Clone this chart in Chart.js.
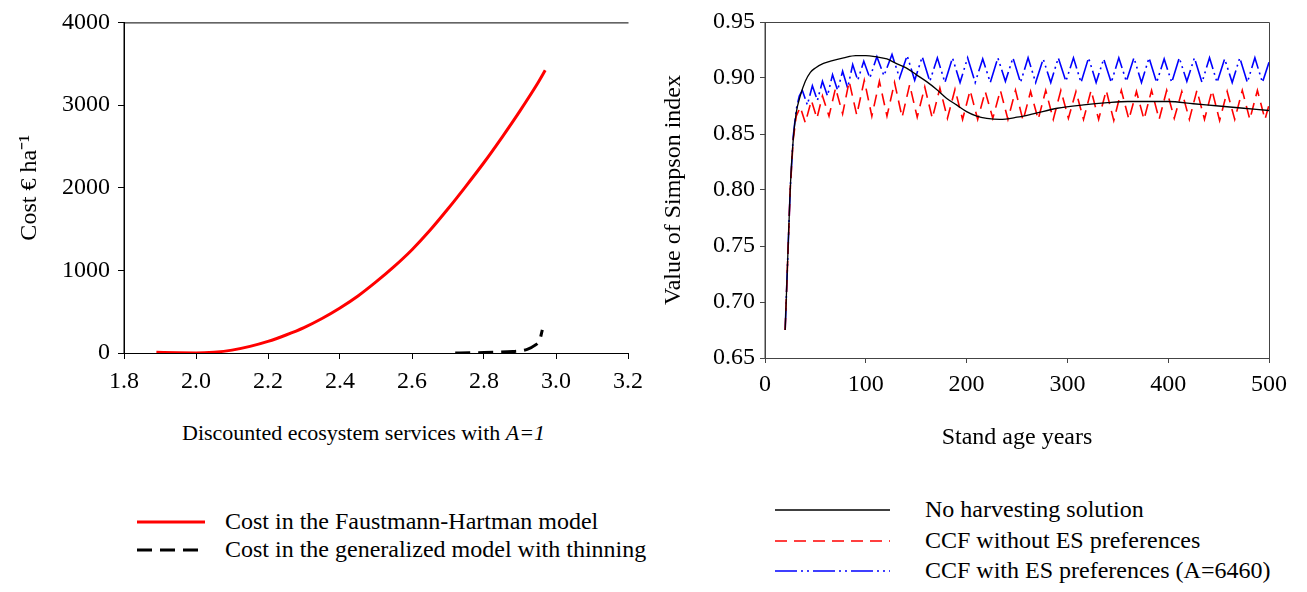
<!DOCTYPE html>
<html>
<head>
<meta charset="utf-8">
<script src="https://cdn.jsdelivr.net/npm/chart.js@4/dist/chart.umd.min.js"></script>
<style>
  html, body { margin: 0; padding: 0; background: #fff; }
  #wrap { position: relative; width: 1307px; height: 592px; overflow: hidden; font-family: 'Liberation Serif', 'Times New Roman', serif; color: #000; }
  canvas { position: absolute; top: 0; }
  .txt { position: absolute; font-size: 24px; line-height: 28px; white-space: nowrap; }
  .leg svg { position: absolute; overflow: visible; }
</style>
</head>
<body>
<div id="wrap">
  <canvas id="left" width="655" height="400" style="left:0"></canvas>
  <canvas id="right" width="652" height="460" style="left:655px"></canvas>
  <div class="txt" id="xtitleLeft" style="left:182px; top:419px; font-size:22px;">Discounted ecosystem services with <i>A=1</i></div>
  <div class="leg" id="legLeft"></div>
  <div class="leg" id="legRight"></div>
</div>
<script>
// ---------- Left panel data ----------
const costX    = [1.89, 1.95, 2.00, 2.05, 2.10, 2.15, 2.20, 2.25, 2.30, 2.35, 2.40, 2.45, 2.50, 2.55, 2.60, 2.65, 2.70, 2.75, 2.80, 2.85, 2.90, 2.95, 2.97];
const costFH   = [8, 2, 0, 10, 35, 80, 140, 218, 308, 418, 545, 690, 860, 1045, 1250, 1485, 1745, 2020, 2305, 2610, 2930, 3270, 3420];
const thinX    = [2.72, 2.76, 2.80, 2.84, 2.88, 2.90, 2.92, 2.94, 2.955, 2.962];
const thinCost = [0, 2, 5, 10, 18, 25, 45, 90, 160, 280];
const leftXTicks = [1.8, 2.0, 2.2, 2.4, 2.6, 2.8, 3.0, 3.2];
const leftYTicks = [0, 1000, 2000, 3000, 4000];

// ---------- Right panel data ----------
const ageNH  = [20, 22.5, 25, 28, 31, 35, 40, 45, 50, 58, 65, 78, 90, 100, 110, 121, 130, 140, 150, 160, 170, 180, 190, 200, 210, 220, 233, 250, 266, 290, 316, 340, 360, 380, 400, 425, 450, 475, 500];
const simpNH = [0.675, 0.738, 0.800, 0.845, 0.869, 0.884, 0.897, 0.905, 0.909, 0.913, 0.915, 0.918, 0.920, 0.920, 0.919, 0.917, 0.913, 0.909, 0.903, 0.897, 0.890, 0.882, 0.876, 0.870, 0.866, 0.864, 0.863, 0.865, 0.868, 0.873, 0.876, 0.878, 0.879, 0.879, 0.879, 0.877, 0.875, 0.873, 0.871];

const ageCCF = [20, 25, 28, 31, 35, 40, 46, 51.5, 57, 63.5, 70, 77, 83.5, 91, 98.5, 106, 113.5, 121, 128.5, 136, 143.5, 151, 158.5, 166, 173.5, 181, 188.5,
  196, 203.5, 211, 218.5, 226, 233.5, 241, 248.5, 256, 263.5, 271, 278.5, 286, 293.5, 301, 308.5, 316, 323.5, 331, 338.5, 346, 353.5, 361, 368.5,
  376, 383.5, 391, 398.5, 406, 413.5, 421, 428.5, 436, 443.5, 451, 458.5, 466, 473.5, 481, 488.5, 496, 500];
const simpCCF = [0.675, 0.800, 0.845, 0.866, 0.874, 0.860, 0.880, 0.864, 0.884, 0.866, 0.891, 0.868, 0.897, 0.867, 0.898, 0.866, 0.897, 0.866, 0.896, 0.865, 0.894, 0.865, 0.892, 0.864, 0.891, 0.864, 0.890,
  0.863, 0.889, 0.863, 0.888, 0.864, 0.889, 0.863, 0.889, 0.862, 0.888, 0.863, 0.889, 0.863, 0.889, 0.864, 0.888, 0.863, 0.889, 0.863, 0.889, 0.862, 0.889, 0.863, 0.888,
  0.863, 0.889, 0.863, 0.889, 0.864, 0.888, 0.863, 0.889, 0.863, 0.889, 0.862, 0.888, 0.863, 0.889, 0.863, 0.889, 0.863, 0.876];

const ageES = [20, 25, 28, 31, 34, 37, 42, 47, 52, 57, 62, 67, 72, 77, 82, 87, 92, 98, 104, 111, 118, 126, 133.5, 141, 148.5, 156, 163.5, 171, 178.5, 186,
  193.5, 201, 208.5, 216, 223.5, 231, 238.5, 246, 253.5, 261, 268.5, 276, 283.5, 291, 298.5, 306, 313.5, 321, 328.5, 336, 343.5,
  351, 358.5, 366, 373.5, 381, 388.5, 396, 403.5, 411, 418.5, 426, 433.5, 441, 448.5, 456, 463.5, 471, 478.5, 486, 493.5, 500];
const simpES = [0.675, 0.800, 0.848, 0.872, 0.884, 0.889, 0.876, 0.893, 0.880, 0.897, 0.884, 0.903, 0.889, 0.906, 0.891, 0.912, 0.898, 0.915, 0.900, 0.919, 0.902, 0.921, 0.900, 0.920, 0.898, 0.919, 0.897, 0.918, 0.896, 0.918,
  0.896, 0.918, 0.896, 0.917, 0.896, 0.918, 0.897, 0.918, 0.896, 0.918, 0.896, 0.917, 0.896, 0.918, 0.897, 0.918, 0.896, 0.918, 0.896, 0.917, 0.896,
  0.918, 0.897, 0.918, 0.896, 0.918, 0.896, 0.917, 0.896, 0.918, 0.897, 0.918, 0.896, 0.918, 0.896, 0.917, 0.896, 0.918, 0.896, 0.918, 0.896, 0.914];
const rightXTicks = [0, 100, 200, 300, 400, 500];
const rightYTicks = [0.65, 0.70, 0.75, 0.80, 0.85, 0.90, 0.95];

// ---------- helpers ----------
const FAM = "'Liberation Serif', 'Times New Roman', serif";
const zip = (xs, ys) => xs.map((x, i) => ({ x: x, y: ys[i] }));
const tickFont = { family: FAM, size: 24 };
const titleFont = { family: FAM, size: 24 };

const framePlugin = {
  id: 'frame',
  afterDraw(chart, args, opts) {
    const a = chart.chartArea, ctx = chart.ctx;
    ctx.save();
    ctx.strokeStyle = opts.color || '#000';
    ctx.lineWidth = 1;
    ctx.beginPath();
    ctx.moveTo(a.left, a.bottom + 0.5);
    ctx.lineTo(a.left, a.top + 0.5);
    ctx.lineTo(a.right + 0.5, a.top + 0.5);
    if (opts.right) ctx.lineTo(a.right + 0.5, a.bottom);
    ctx.stroke();
    ctx.restore();
  }
};

function axis(min, max, ticksArr, fmt, extra) {
  return Object.assign({
    type: 'linear', min: min, max: max,
    afterBuildTicks: s => { s.ticks = ticksArr.map(v => ({ value: v })); },
    ticks: { font: tickFont, color: '#000', padding: 8, callback: v => fmt(v), autoSkip: false, maxRotation: 0 },
    grid: { drawOnChartArea: false, drawTicks: true, tickLength: 6, color: '#000', lineWidth: 1 },
    border: { display: true, color: '#000', width: 1 }
  }, extra || {});
}

// ---------- Left chart ----------
const leftChart = new Chart(document.getElementById('left'), {
  type: 'scatter',
  data: {
    datasets: [
      { label: 'Cost in the Faustmann-Hartman model', data: zip(costX, costFH), showLine: true, borderColor: '#ff0000', backgroundColor: '#ff0000', borderWidth: 3, pointRadius: 0, cubicInterpolationMode: 'monotone', borderDash: [] },
      { label: 'Cost in the generalized model with thinning', data: zip(thinX, thinCost), showLine: true, borderColor: '#000000', backgroundColor: '#000000', borderWidth: 3, pointRadius: 0, cubicInterpolationMode: 'monotone', borderDash: [15, 8] }
    ]
  },
  options: {
    responsive: false, animation: false, devicePixelRatio: 1,
    layout: { padding: { left: 0, right: 27, top: 18, bottom: 0 } },
    plugins: { legend: { display: false }, tooltip: { enabled: false }, frame: { color: '#000', right: false } },
    scales: {
      x: axis(1.8, 3.2, leftXTicks, v => v.toFixed(1), { afterFit: s => { s.height = 47; } }),
      y: axis(0, 4000, leftYTicks, v => String(v), {
        afterFit: s => { s.width = 124; },
        title: { display: true, text: 'Cost € ha⁻¹', font: titleFont, color: '#000', padding: { top: 15, bottom: 0 } }
      })
    }
  },
  plugins: [framePlugin]
});

// ---------- Right chart ----------
const rightChart = new Chart(document.getElementById('right'), {
  type: 'scatter',
  data: {
    datasets: [
      { label: 'No harvesting solution', data: zip(ageNH, simpNH), showLine: true, borderColor: '#000000', backgroundColor: '#000000', borderWidth: 1.3, pointRadius: 0, cubicInterpolationMode: 'monotone', borderDash: [] },
      { label: 'CCF without ES preferences', data: zip(ageCCF, simpCCF), showLine: true, borderColor: '#ff0000', backgroundColor: '#ff0000', borderWidth: 1.6, pointRadius: 0, tension: 0, borderDash: [12, 7] },
      { label: 'CCF with ES preferences (A=6460)', data: zip(ageES, simpES), showLine: true, borderColor: '#0000ff', backgroundColor: '#0000ff', borderWidth: 1.6, pointRadius: 0, tension: 0, borderDash: [22, 4, 2, 4, 2, 4] }
    ]
  },
  options: {
    responsive: false, animation: false, devicePixelRatio: 1,
    layout: { padding: { left: 0, right: 38, top: 22, bottom: 0 } },
    plugins: { legend: { display: false }, tooltip: { enabled: false }, frame: { color: '#444', right: true } },
    scales: {
      x: axis(0, 500, rightXTicks, v => String(v), {
        afterFit: s => { s.height = 102; },
        grid: { drawOnChartArea: false, drawTicks: true, tickLength: 5, color: '#444', lineWidth: 1 },
        border: { display: true, color: '#444', width: 1 },
        title: { display: true, text: 'Stand age years', font: titleFont, color: '#000', padding: { top: 0, bottom: 8 } }
      }),
      y: axis(0.65, 0.95, rightYTicks, v => v.toFixed(2), {
        afterFit: s => { s.width = 110; },
        grid: { drawOnChartArea: false, drawTicks: true, tickLength: 5, color: '#444', lineWidth: 1 },
        border: { display: true, color: '#444', width: 1 },
        title: { display: true, text: 'Value of Simpson index', font: titleFont, color: '#000', padding: { top: 4, bottom: 0 } }
      })
    }
  },
  plugins: [framePlugin]
});
rightChart.options.scales.x.ticks.padding = 7;
rightChart.options.scales.y.ticks.padding = 5;
rightChart.update();

// ---------- HTML legends built from the chart datasets ----------
function buildLegend(chart, el, lineX, lineW, textX, rowsY) {
  chart.data.datasets.forEach((ds, i) => {
    const y = rowsY[i];
    const svgNS = 'http://www.w3.org/2000/svg';
    const svg = document.createElementNS(svgNS, 'svg');
    svg.setAttribute('width', lineW); svg.setAttribute('height', 8);
    svg.style.left = lineX + 'px'; svg.style.top = (y - 4) + 'px';
    const ln = document.createElementNS(svgNS, 'line');
    ln.setAttribute('x1', 0); ln.setAttribute('x2', lineW);
    ln.setAttribute('y1', 4); ln.setAttribute('y2', 4);
    ln.setAttribute('stroke', ds.borderColor);
    ln.setAttribute('stroke-width', Math.min(ds.borderWidth, 3));
    if (ds.borderDash && ds.borderDash.length) ln.setAttribute('stroke-dasharray', ds.borderDash.join(' '));
    svg.appendChild(ln);
    el.appendChild(svg);
    const t = document.createElement('div');
    t.className = 'txt';
    t.textContent = ds.label;
    t.style.left = textX + 'px'; t.style.top = (y - 15) + 'px';
    el.appendChild(t);
  });
}
buildLegend(leftChart, document.getElementById('legLeft'), 137, 68, 225, [522, 550]);
buildLegend(rightChart, document.getElementById('legRight'), 775, 115, 925, [510, 540.5, 571]);
</script>
</body>
</html>
